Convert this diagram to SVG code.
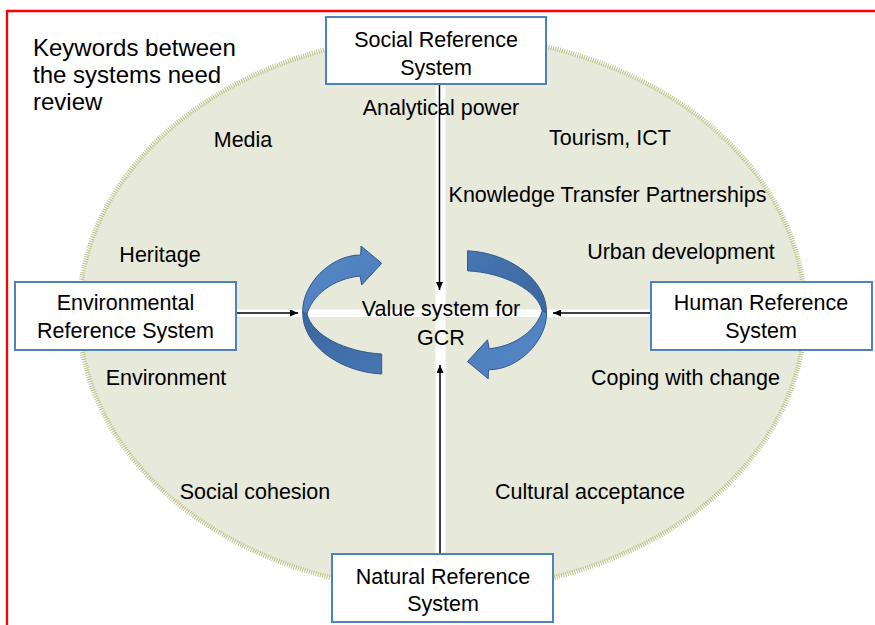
<svg xmlns="http://www.w3.org/2000/svg" width="875" height="625" viewBox="0 0 875 625">
  <defs>
    <style>
      .lbl { font-family: "Liberation Sans", Arial, sans-serif; font-size: 21.5px; fill: #000; text-anchor: middle; }
      .note { font-family: "Liberation Sans", Arial, sans-serif; font-size: 24px; fill: #000; }
      .box { fill: #fff; stroke: #4f81bd; stroke-width: 2; }
      .conn { stroke: #000; stroke-width: 1.5; fill: none; }
      .light { fill: url(#gLight); stroke: #34598a; stroke-width: 1; }
      .dark { fill: url(#gDark); stroke: #34598a; stroke-width: 1; }
    </style>
    <marker id="ah" viewBox="0 0 8 7" refX="8" refY="3.5" markerWidth="8" markerHeight="7" markerUnits="userSpaceOnUse" orient="auto">
      <path d="M0,0 L8,3.5 L0,7 z" fill="#000"/>
    </marker>
    <linearGradient id="gLight" x1="0" y1="0" x2="1" y2="1">
      <stop offset="0" stop-color="#5789c8"/>
      <stop offset="1" stop-color="#4a7bb9"/>
    </linearGradient>
    <linearGradient id="gDark" x1="0" y1="0" x2="1" y2="1">
      <stop offset="0" stop-color="#3a669f"/>
      <stop offset="1" stop-color="#4776b3"/>
    </linearGradient>
    <clipPath id="ellClip">
      <ellipse cx="442" cy="313" rx="363" ry="278"/>
    </clipPath>
  </defs>

  <rect x="0" y="0" width="875" height="625" fill="#fff"/>

  <!-- red frame -->
  <path d="M7,625 V11 H875" fill="none" stroke="#ff0000" stroke-width="2.3"/>

  <!-- background ellipse -->
  <g id="background">
    <ellipse cx="442" cy="313" rx="363" ry="278" fill="#e7e9da" stroke="#bfc48c" stroke-width="5" stroke-dasharray="1 1.3"/>
    <g clip-path="url(#ellClip)" fill="#fff">
      <rect x="435.5" y="30" width="10" height="570"/>
      <rect x="70" y="309.5" width="750" height="7.5"/>
    </g>
  </g>

  <!-- circular arrows -->
  <g id="cycle">
    <g id="arrow-left">
      <path class="dark" d="M302.7,312 C302,345 340,372 381.7,374 L381.7,354 C345,352 312,335 307,314 Z"/>
      <path class="light" d="M381.7,263.3 L361,246 L360.7,255 C330,255 302,285 302.7,312 L307,314 C312,296 332,279 360,276 L361.7,285 Z"/>
    </g>
    <g id="arrow-right" transform="rotate(180 424.6 312.4)">
      <path class="dark" d="M302.7,312 C302,345 340,372 381.7,374 L381.7,354 C345,352 312,335 307,314 Z"/>
      <path class="light" d="M381.7,263.3 L361,246 L360.7,255 C330,255 302,285 302.7,312 L307,314 C312,296 332,279 360,276 L361.7,285 Z"/>
    </g>
  </g>

  <!-- connectors -->
  <g id="connectors">
    <path class="conn" d="M439.5,84 V290" marker-end="url(#ah)"/>
    <path class="conn" d="M440,554 V365" marker-end="url(#ah)"/>
    <path class="conn" d="M236,313 H298" marker-end="url(#ah)"/>
    <path class="conn" d="M651,313 H553" marker-end="url(#ah)"/>
  </g>

  <!-- nodes -->
  <g id="social">
    <rect class="box" x="326" y="17" width="220" height="67"/>
    <text class="lbl" x="436" y="47">Social Reference</text>
    <text class="lbl" x="436" y="75">System</text>
  </g>
  <g id="natural">
    <rect class="box" x="332" y="554" width="221" height="68"/>
    <text class="lbl" x="443" y="584">Natural Reference</text>
    <text class="lbl" x="443" y="611">System</text>
  </g>
  <g id="environmental">
    <rect class="box" x="15" y="282" width="221" height="68"/>
    <text class="lbl" x="125.5" y="310">Environmental</text>
    <text class="lbl" x="125.5" y="338">Reference System</text>
  </g>
  <g id="human">
    <rect class="box" x="651" y="282" width="221" height="68"/>
    <text class="lbl" x="761" y="310">Human Reference</text>
    <text class="lbl" x="761" y="338">System</text>
  </g>
  <g id="center">
    <text class="lbl" x="441" y="316">Value system for</text>
    <text class="lbl" x="441" y="345">GCR</text>
  </g>

  <!-- keywords -->
  <g id="keywords">
    <text class="lbl" x="441" y="115">Analytical power</text>
    <text class="lbl" x="243" y="147">Media</text>
    <text class="lbl" x="610" y="145">Tourism, ICT</text>
    <text class="lbl" x="607.5" y="202">Knowledge Transfer Partnerships</text>
    <text class="lbl" x="160" y="262">Heritage</text>
    <text class="lbl" x="681" y="259">Urban development</text>
    <text class="lbl" x="166" y="385">Environment</text>
    <text class="lbl" x="685.5" y="385">Coping with change</text>
    <text class="lbl" x="255" y="499">Social cohesion</text>
    <text class="lbl" x="590" y="499">Cultural acceptance</text>
  </g>

  <g id="note">
    <text class="note" x="33" y="56">Keywords between</text>
    <text class="note" x="33" y="83">the systems need</text>
    <text class="note" x="33" y="110">review</text>
  </g>
</svg>
